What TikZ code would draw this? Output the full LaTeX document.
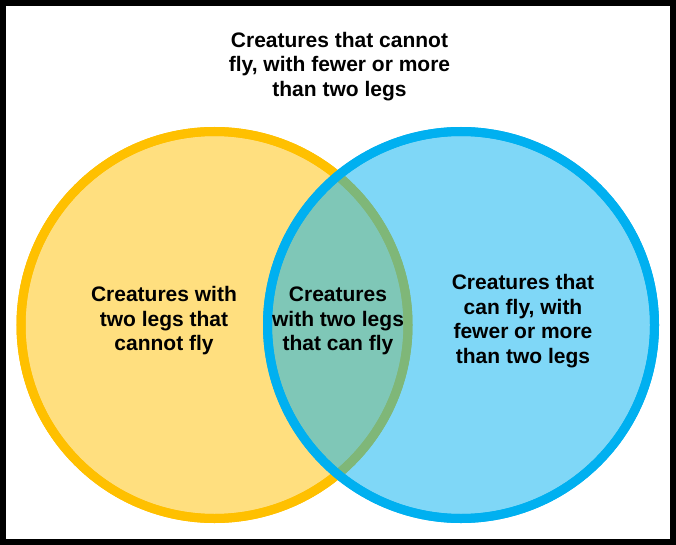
\documentclass[tikz,border=0pt]{standalone}
\usepackage{fontspec}
\setmainfont{Liberation Sans}
\definecolor{gold}{HTML}{FFC000}
\definecolor{sky}{HTML}{00B0F0}
\begin{document}
\begin{tikzpicture}[x=1pt,y=-1pt,
  setcircle/.style={circle, inner sep=0pt, outer sep=0pt, minimum size=387pt, line width=9pt},
  label/.style={align=center, inner sep=0pt, text=black, font=\fontsize{21}{24.5}\selectfont\bfseries}]
\useasboundingbox (0,0) rectangle (676,545);
\fill[white] (0,0) rectangle (676,545);
\node[setcircle, draw=gold, fill=gold, fill opacity=0.5, draw opacity=1] (left) at (214.5,325) {};
\node[setcircle, draw=gold] at (214.5,325) {};
\node[setcircle, draw=sky, fill=sky, fill opacity=0.5, draw opacity=1] (right) at (461,325) {};
\node[setcircle, draw=sky] at (461,325) {};
\node[label] (top) at (339.5,66.5) {Creatures that cannot\\fly, with fewer or more\\than two legs};
\node[label] (lt) at (164,321) {Creatures with\\two legs that\\cannot fly};
\node[label] (mid) at (338,321) {Creatures\\with two legs\\that can fly};
\node[label] (rt) at (523,321) {Creatures that\\can fly, with\\fewer or more\\than two legs};
\draw[black, line width=6pt] (3,3) rectangle (673,542);
\end{tikzpicture}
\end{document}
